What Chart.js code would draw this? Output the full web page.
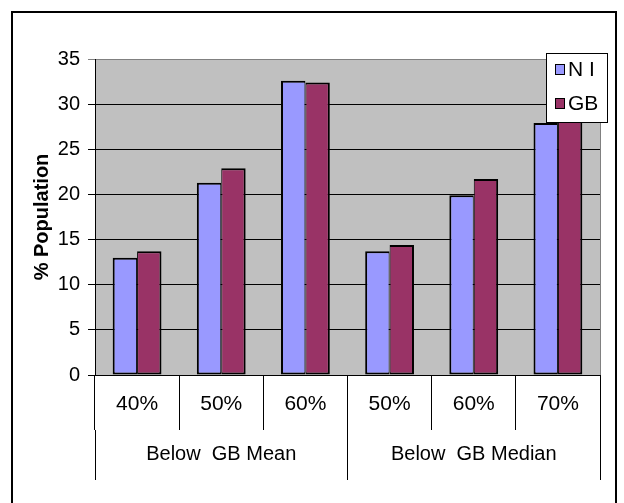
<!DOCTYPE html>
<html>
<head>
<meta charset="utf-8">
<script src="https://cdn.jsdelivr.net/npm/chart.js@4/dist/chart.umd.min.js"></script>
<style>
  html, body { margin: 0; padding: 0; background: #fff; }
  #wrap { width: 624px; height: 503px; }
</style>
</head>
<body>
<div id="wrap"><canvas id="c" width="624" height="503"></canvas></div>
<script>
// Poverty thresholds (sub-categories) and their grouping
const categories = ['40%', '50%', '60%', '50%', '60%', '70%'];
const groups = ['Below  GB Mean', 'Below  GB Median'];

// Share of population below each threshold
const seriesNames = ['N I', 'GB'];
const niValues = [13.0, 21.3, 32.6, 13.7, 19.9, 27.9];
const gbValues = [13.7, 22.9, 32.4, 14.4, 21.7, 28.7];

const yTitle = '% Population';
const yMin = 0, yMax = 35, yStep = 5;

const FONT = "'Liberation Sans', Arial, sans-serif";
Chart.defaults.font.family = FONT;
Chart.defaults.color = '#000';

// Outer frame, grey plot area and its grey right edge
const framePlugin = {
  id: 'frame',
  beforeDraw(chart) {
    const { ctx, chartArea: a } = chart;
    ctx.save();
    ctx.fillStyle = '#fff';
    ctx.fillRect(0, 0, chart.width, chart.height);
    ctx.fillStyle = '#C0C0C0';
    ctx.fillRect(a.left, a.top, a.right - a.left, a.bottom - a.top);
    ctx.restore();
  },
  afterDatasetsDraw(chart) {
    const { ctx, chartArea: a } = chart;
    ctx.save();
    ctx.strokeStyle = '#808080';
    ctx.lineWidth = 1;
    ctx.beginPath();
    ctx.moveTo(a.right + 0.5, a.top);
    ctx.lineTo(a.right + 0.5, a.bottom);
    ctx.stroke();
    ctx.restore();
  },
  afterDraw(chart) {
    const { ctx } = chart;
    ctx.save();
    ctx.strokeStyle = '#000';
    ctx.lineWidth = 2;
    ctx.strokeRect(12, 12, 604, 520);
    ctx.restore();
  }
};

// Boxed legend sitting over the top-right corner of the plot
const boxLegend = {
  id: 'boxLegend',
  afterDraw(chart) {
    const { ctx, chartArea: a } = chart;
    const left = a.right - 54, top = a.top - 6, w = 62, h = 70;
    ctx.save();
    ctx.fillStyle = '#fff';
    ctx.fillRect(left, top, w, h);
    ctx.strokeStyle = '#000';
    ctx.lineWidth = 1;
    ctx.strokeRect(left + 0.5, top + 0.5, w - 1, h - 1);
    ctx.font = '21px ' + FONT;
    ctx.textBaseline = 'middle';
    chart.data.datasets.forEach((ds, i) => {
      const cy = top + 16 + i * 34;
      ctx.fillStyle = ds.backgroundColor;
      ctx.fillRect(left + 9, cy - 5, 10, 11);
      ctx.strokeRect(left + 9.5, cy - 4.5, 9, 10);
      ctx.fillStyle = '#000';
      ctx.fillText(ds.label, left + 22, cy + 1);
    });
    ctx.restore();
  }
};

new Chart(document.getElementById('c'), {
  type: 'bar',
  data: {
    labels: categories,
    datasets: [
      { label: seriesNames[0], data: niValues, backgroundColor: '#9999FF',
        borderColor: '#000', borderWidth: { top: 2, left: 2, bottom: 2, right: 1 },
        borderSkipped: false, xAxisID: 'x' },
      { label: seriesNames[1], data: gbValues, backgroundColor: '#993366',
        borderColor: '#000', borderWidth: { top: 2, left: 1, bottom: 2, right: 2 },
        borderSkipped: false, xAxisID: 'x' }
    ]
  },
  options: {
    responsive: false,
    animation: false,
    layout: { padding: { left: 28, right: 24, top: 59, bottom: 23 } },
    plugins: {
      legend: { display: false },
      tooltip: { enabled: false }
    },
    datasets: { bar: { categoryPercentage: 0.58, barPercentage: 1.0 } },
    scales: {
      x: {
        type: 'category',
        position: 'bottom',
        weight: 0,
        offset: true,
        grid: { offset: true, drawOnChartArea: false, drawTicks: true,
                tickLength: 55, color: '#000', lineWidth: 1 },
        border: { display: true, color: '#000', width: 1 },
        ticks: { font: { size: 21 }, color: '#000', padding: -38,
                 maxRotation: 0, autoSkip: false },
        afterFit(s) { s.height = 55; }
      },
      x2: {
        type: 'category',
        position: 'bottom',
        weight: 1,
        labels: groups,
        offset: true,
        grid: { offset: true, drawOnChartArea: false, drawTicks: true,
                tickLength: 50, color: '#000', lineWidth: 1 },
        border: { display: false },
        ticks: { font: { size: 20 }, color: '#000', padding: -38,
                 maxRotation: 0, autoSkip: false },
        afterFit(s) { s.height = 50; }
      },
      y: {
        min: yMin,
        max: yMax,
        ticks: { stepSize: yStep, font: { size: 20 }, color: '#000', padding: 8 },
        grid: {
          color: (c) => (c.tick && c.tick.value === yMax) ? '#808080' : '#000',
          lineWidth: 1,
          tickLength: 7
        },
        border: { display: true, color: '#000', width: 1 },
        title: { display: true, text: yTitle, color: '#000',
                 font: { size: 20, weight: 'bold' }, padding: { top: 2, bottom: 0 } },
        afterFit(s) { s.width = 67; }
      }
    }
  },
  plugins: [framePlugin, boxLegend]
});
</script>
</body>
</html>
